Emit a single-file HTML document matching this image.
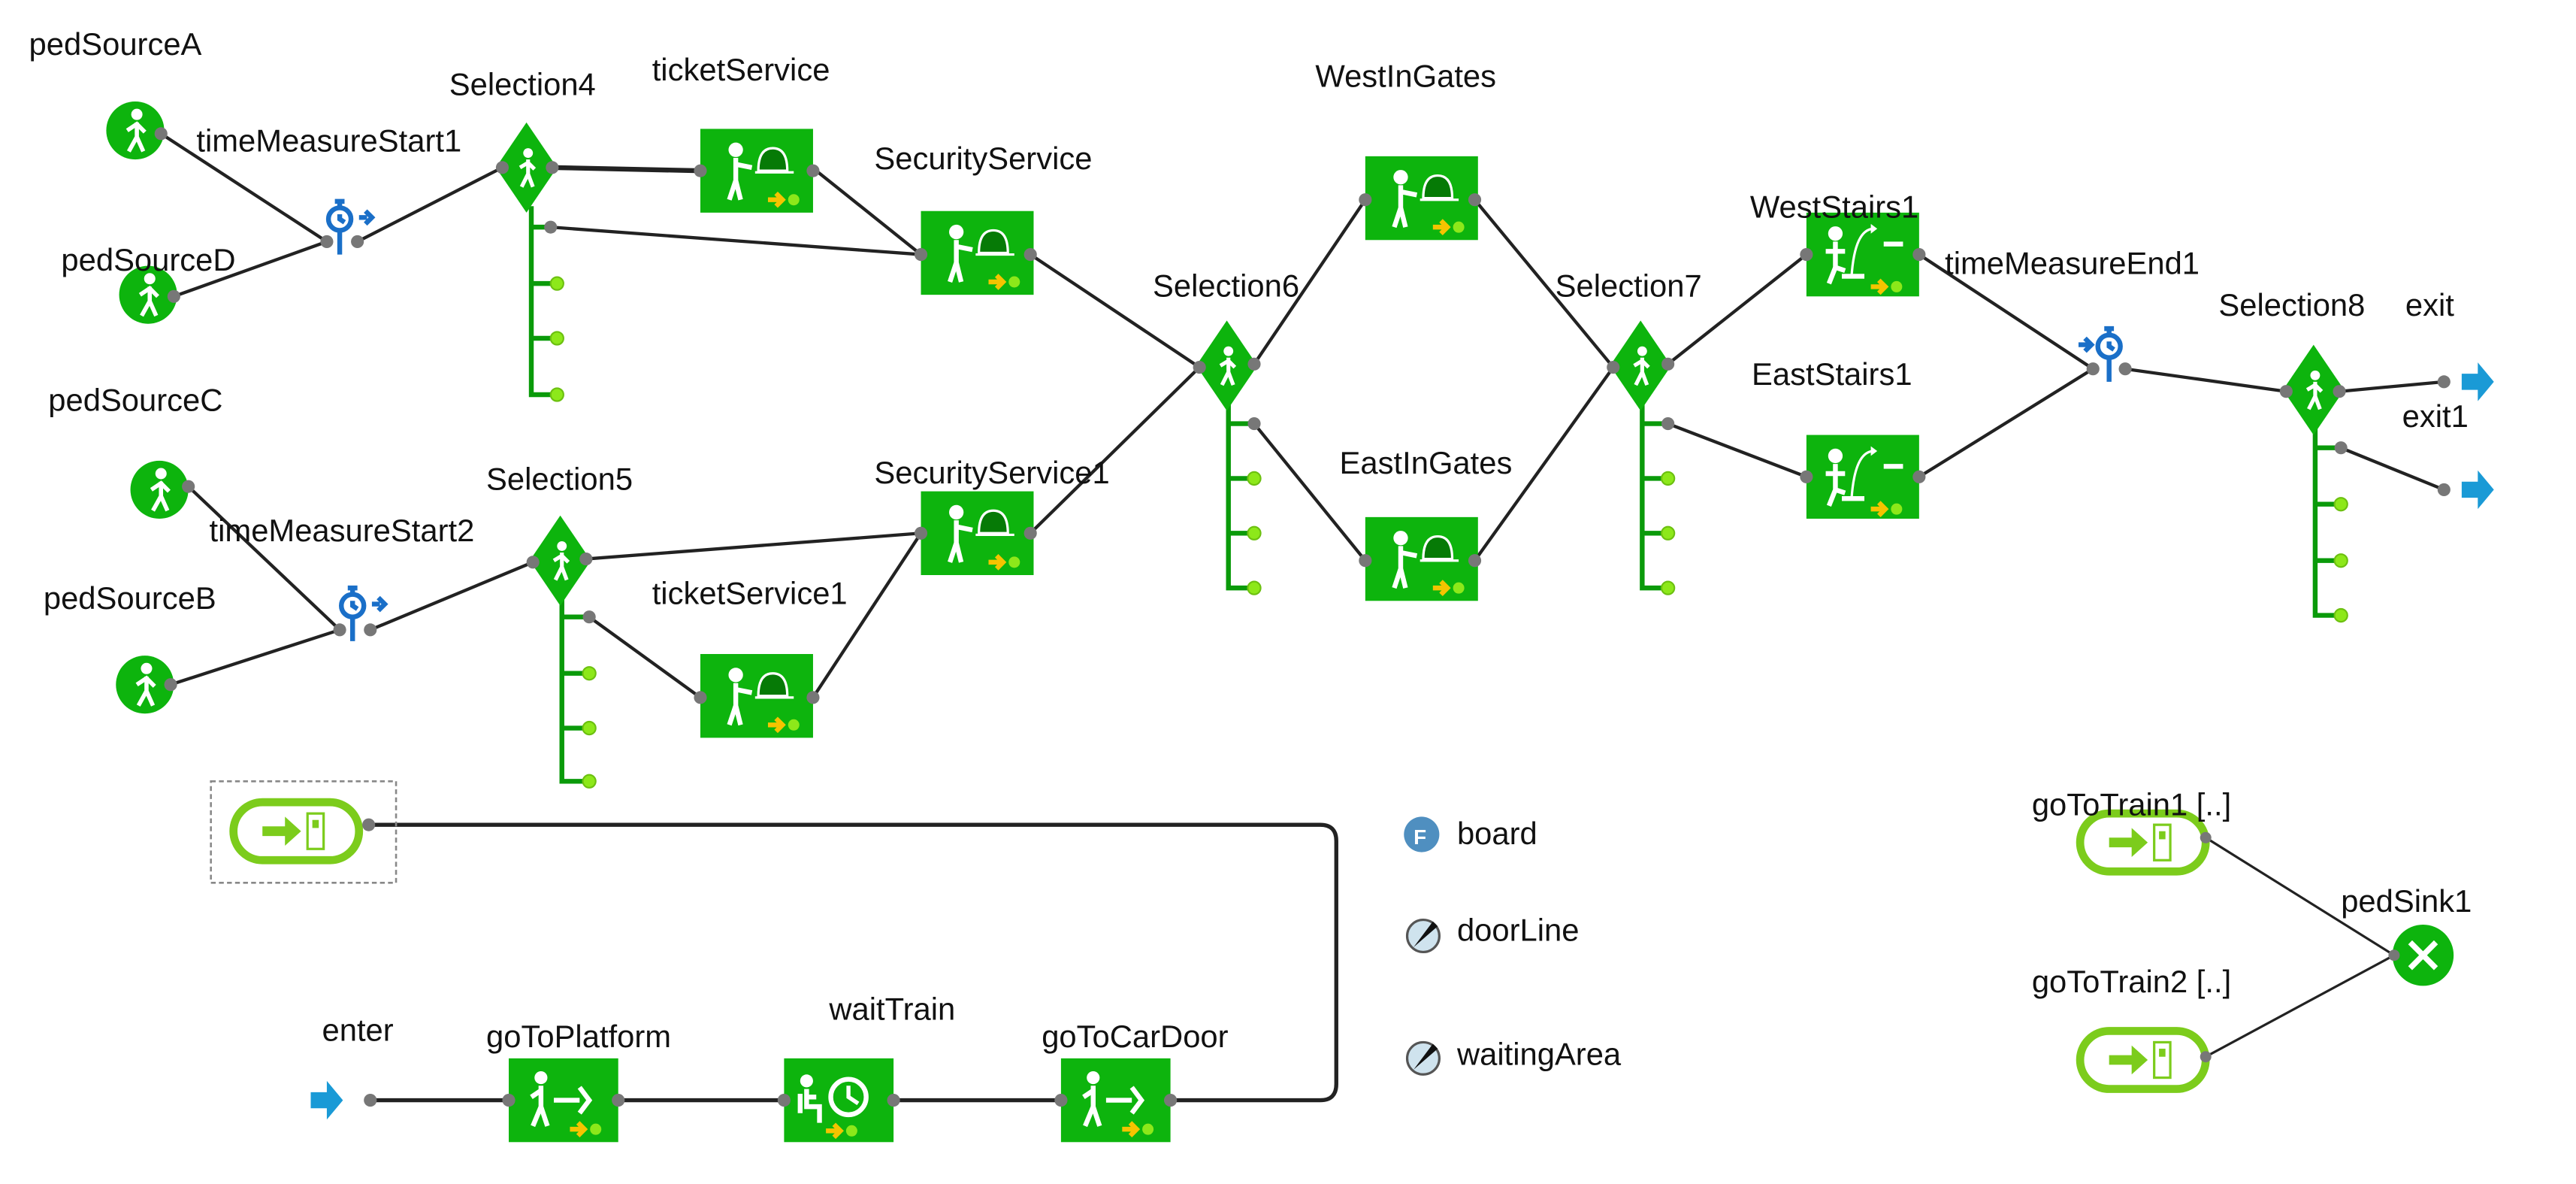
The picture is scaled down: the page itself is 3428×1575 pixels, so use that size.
<!DOCTYPE html>
<html><head><meta charset="utf-8"><style>
html,body{margin:0;padding:0;background:#fff;}
svg{display:block;}
text{font-family:"Liberation Sans",sans-serif;font-size:19.5px;fill:#111;}
</style></head><body>
<svg width="3428" height="1575" viewBox="0 0 1600 735" preserveAspectRatio="none" xmlns="http://www.w3.org/2000/svg">
<defs>
<g id="srv">
<rect x="0" y="0" width="70" height="52" fill="#0db40d"/>
<circle cx="22" cy="13" r="4.5" fill="#fff"/>
<path d="M22 18 L22 32 L18 44 M22 32 L25 44 M22 22 L32 24" stroke="#fff" stroke-width="3" fill="none"/>
<path d="M36 26 Q36 12 45 12 Q54 12 54 26 Z" fill="#067a06" stroke="#fff" stroke-width="1.5"/>
<line x1="34" y1="27" x2="58" y2="27" stroke="#fff" stroke-width="1.5"/>
<path d="M42 44 L50 44 M47 40 L51 44 L47 48" stroke="#f5c400" stroke-width="3" fill="none"/>
<circle cx="58" cy="44" r="3.5" fill="#8de81a"/>
</g>
<g id="stairs">
<rect x="0" y="0" width="70" height="52" fill="#0db40d"/>
<circle cx="18" cy="13" r="4.5" fill="#fff"/>
<path d="M18 18 L18 34 M12 24 L24 24 M18 34 L14 44 M18 34 L24 36" stroke="#fff" stroke-width="3" fill="none"/>
<path d="M28 40 Q30 10 42 10" stroke="#fff" stroke-width="1.5" fill="none"/>
<path d="M40 7 L44 10 L40 13" fill="#fff"/>
<rect x="48" y="18" width="12" height="3" fill="#fff"/>
<rect x="22" y="38" width="14" height="3" fill="#fff"/>
<path d="M40 46 L48 46 M45 42 L49 46 L45 50" stroke="#f5c400" stroke-width="3" fill="none"/>
<circle cx="56" cy="46" r="3.5" fill="#8de81a"/>
</g>
<g id="walkbox">
<rect x="0" y="0" width="68" height="52" fill="#0db40d"/>
<circle cx="20" cy="12" r="4" fill="#fff"/>
<path d="M20 17 L20 30 L15 42 M20 30 L24 42 M14 24 L20 20" stroke="#fff" stroke-width="3" fill="none"/>
<path d="M28 26 L44 26 M44 18 L50 26 L44 34" stroke="#fff" stroke-width="3" fill="none"/>
<path d="M38 44 L46 44 M43 40 L47 44 L43 48" stroke="#f5c400" stroke-width="3" fill="none"/>
<circle cx="54" cy="44" r="3.5" fill="#8de81a"/>
</g>
<g id="ped">
<circle cx="0" cy="0" r="18" fill="#0db40d"/>
<circle cx="1" cy="-10" r="3.5" fill="#fff"/>
<path d="M1 -5 L1 4 L-4 13 M1 4 L5 13 M-5 0 L1 -4 L6 1" stroke="#fff" stroke-width="2.6" fill="none"/>
</g>
<g id="dia">
<path d="M0 -28 L19 0 L0 28 L-19 0 Z" fill="#0db40d"/>
<circle cx="1" cy="-9" r="3" fill="#fff"/>
<path d="M1 -5 L1 4 L-3 12 M1 4 L4 12 M-4 0 L1 -3 L5 1" stroke="#fff" stroke-width="2.4" fill="none"/>
</g>
<g id="pill">
<rect x="2" y="2" width="78" height="36" rx="18" fill="#fff" stroke="#7ccc1c" stroke-width="5"/>
<path d="M20 17 L34 17 L34 11 L44 20 L34 29 L34 23 L20 23 Z" fill="#7ccc1c"/>
<rect x="48" y="9" width="10" height="22" fill="#fff" stroke="#7ccc1c" stroke-width="1.5"/>
<rect x="51" y="13" width="4" height="5" fill="#7ccc1c"/>
</g>
<g id="exitarr"><path d="M0 -5 L10 -5 L10 -12 L20 0 L10 12 L10 5 L0 5 Z" fill="#1a9ad6"/></g>
</defs>

<g stroke="#222" stroke-width="2" fill="none">
<line x1="100" y1="83" x2="203" y2="150"/>
<line x1="108" y1="184" x2="203" y2="150"/>
<line x1="222" y1="150" x2="312" y2="104"/>
<line x1="343" y1="104" x2="435" y2="106" stroke-width="3"/>
<line x1="507" y1="106" x2="572" y2="158"/>
<line x1="342" y1="141" x2="572" y2="158"/>
<line x1="640" y1="158" x2="745" y2="228"/>
<line x1="640" y1="331" x2="745" y2="228"/>
<line x1="779" y1="226" x2="848" y2="124"/>
<line x1="779" y1="263" x2="848" y2="348"/>
<line x1="916" y1="124" x2="1002" y2="228"/>
<line x1="916" y1="348" x2="1002" y2="228"/>
<line x1="1036" y1="226" x2="1122" y2="158"/>
<line x1="1036" y1="263" x2="1122" y2="296"/>
<line x1="1192" y1="158" x2="1300" y2="229"/>
<line x1="1192" y1="296" x2="1300" y2="229"/>
<line x1="1320" y1="229" x2="1420" y2="243"/>
<line x1="1453" y1="243" x2="1518" y2="237"/>
<line x1="1454" y1="278" x2="1518" y2="304"/>
<line x1="117" y1="302" x2="211" y2="391"/>
<line x1="106" y1="425" x2="211" y2="391"/>
<line x1="230" y1="391" x2="331" y2="349"/>
<line x1="364" y1="347" x2="572" y2="331"/>
<line x1="366" y1="383" x2="435" y2="433"/>
<line x1="505" y1="433" x2="572" y2="331"/>
<path d="M229 512 L820 512 Q830 512 830 522 L830 673 Q830 683 820 683 L727 683" stroke-width="2.5"/>
<line x1="230" y1="683" x2="316" y2="683" stroke-width="2.5"/>
<line x1="384" y1="683" x2="487" y2="683" stroke-width="2.5"/>
<line x1="555" y1="683" x2="659" y2="683" stroke-width="2.5"/>
<line x1="1370" y1="520" x2="1487" y2="593" stroke-width="1.5"/>
<line x1="1370" y1="656" x2="1487" y2="593" stroke-width="1.5"/>
</g>

<g stroke="#0a9a0a" stroke-width="3" fill="none">
<path d="M330 128 L330 245 L346 245 M330 141 L342 141 M330 176 L346 176 M330 210 L346 210"/>
<path d="M349 370 L349 485 L366 485 M349 383 L366 383 M349 418 L366 418 M349 452 L366 452"/>
<path d="M763 250 L763 365 L779 365 M763 263 L779 263 M763 297 L779 297 M763 331 L779 331"/>
<path d="M1020 250 L1020 365 L1036 365 M1020 263 L1036 263 M1020 297 L1036 297 M1020 331 L1036 331"/>
<path d="M1438 264 L1438 382 L1454 382 M1438 278 L1454 278 M1438 313 L1454 313 M1438 348 L1454 348"/>
</g>
<g fill="#8de81a" stroke="#6cc010" stroke-width="1">
<circle cx="346" cy="176" r="4"/><circle cx="346" cy="210" r="4"/><circle cx="346" cy="245" r="4"/>
<circle cx="366" cy="418" r="4"/><circle cx="366" cy="452" r="4"/><circle cx="366" cy="485" r="4"/>
<circle cx="779" cy="297" r="4"/><circle cx="779" cy="331" r="4"/><circle cx="779" cy="365" r="4"/>
<circle cx="1036" cy="297" r="4"/><circle cx="1036" cy="331" r="4"/><circle cx="1036" cy="365" r="4"/>
<circle cx="1454" cy="313" r="4"/><circle cx="1454" cy="348" r="4"/><circle cx="1454" cy="382" r="4"/>
</g>

<use href="#ped" x="84" y="81"/>
<use href="#ped" x="92" y="183"/>
<use href="#ped" x="99" y="304"/>
<use href="#ped" x="90" y="425"/>
<use href="#dia" x="327" y="104"/>
<use href="#dia" x="348" y="348"/>
<use href="#dia" x="762" y="227"/>
<use href="#dia" x="1019" y="227"/>
<use href="#dia" x="1437" y="242"/>
<use href="#srv" x="435" y="80"/>
<use href="#srv" x="572" y="131"/>
<use href="#srv" x="572" y="305"/>
<use href="#srv" x="435" y="406"/>
<use href="#srv" x="848" y="97"/>
<use href="#srv" x="848" y="321"/>
<use href="#stairs" x="1122" y="132"/>
<use href="#stairs" x="1122" y="270"/>
<use href="#walkbox" x="316" y="657"/>
<use href="#walkbox" x="659" y="657"/>
<g transform="translate(487,657)">
<rect width="68" height="52" fill="#0db40d"/>
<circle cx="14" cy="14" r="4" fill="#fff"/>
<path d="M14 19 L14 30 L22 30 L22 40 M14 24 L20 24 M10 22 L10 34" stroke="#fff" stroke-width="3" fill="none"/>
<circle cx="40" cy="24" r="11" fill="none" stroke="#fff" stroke-width="3"/>
<path d="M40 17 L40 24 L46 28" stroke="#fff" stroke-width="2.5" fill="none"/>
<path d="M26 45 L34 45 M31 41 L35 45 L31 49" stroke="#f5c400" stroke-width="3" fill="none"/>
<circle cx="42" cy="45" r="3.5" fill="#8de81a"/>
</g>
<g stroke="#1a6fc8" stroke-width="3" fill="none">
<g transform="translate(211,136)"><circle r="7"/><path d="M0 -10 L0 -7 M-3 -11 L3 -11 M0 -3 L0 0 L3 2 M0 7 L0 22"/><path d="M12 -1 L17 -1 M16 -5 L20 -1 L16 3"/></g>
<g transform="translate(219,376)"><circle r="7"/><path d="M0 -10 L0 -7 M-3 -11 L3 -11 M0 -3 L0 0 L3 2 M0 7 L0 22"/><path d="M12 -1 L17 -1 M16 -5 L20 -1 L16 3"/></g>
<g transform="translate(1310,215)"><circle r="7"/><path d="M0 -10 L0 -7 M-3 -11 L3 -11 M0 -3 L0 0 L3 2 M0 7 L0 22"/><path d="M-19 -1 L-13 -1 M-15 -5 L-11 -1 L-15 3"/></g>
</g>
<rect x="131" y="485" width="115" height="63" fill="none" stroke="#888" stroke-width="1.2" stroke-dasharray="3,2"/>
<use href="#pill" x="143" y="496"/>
<use href="#pill" x="1290" y="503"/>
<use href="#pill" x="1290" y="638"/>
<circle cx="1505" cy="593" r="19" fill="#0db40d"/>
<path d="M1497 585 L1513 601 M1513 585 L1497 601" stroke="#fff" stroke-width="3.5"/>
<use href="#exitarr" x="1529" y="237"/>
<use href="#exitarr" x="1529" y="304"/>
<use href="#exitarr" x="193" y="683"/>
<circle cx="883" cy="518" r="11" fill="#4f8fc0"/>
<text x="878" y="524" style="font-size:13px;fill:#fff;font-weight:bold">F</text>
<circle cx="884" cy="581" r="10" fill="#cfe3ee" stroke="#555" stroke-width="1.5"/>
<path d="M878 588 L890 572 L893 575 Z" fill="#111"/>
<circle cx="884" cy="657" r="10" fill="#cfe3ee" stroke="#555" stroke-width="1.5"/>
<path d="M878 664 L890 648 L893 651 Z" fill="#111"/>

<g fill="#777">
<circle cx="100" cy="83" r="4"/><circle cx="108" cy="184" r="4"/><circle cx="117" cy="302" r="4"/><circle cx="106" cy="425" r="4"/>
<circle cx="203" cy="150" r="4"/><circle cx="222" cy="150" r="4"/><circle cx="211" cy="391" r="4"/><circle cx="230" cy="391" r="4"/>
<circle cx="1300" cy="229" r="4"/><circle cx="1320" cy="229" r="4"/>
<circle cx="312" cy="104" r="4"/><circle cx="343" cy="104" r="4"/><circle cx="342" cy="141" r="4"/>
<circle cx="331" cy="349" r="4"/><circle cx="364" cy="347" r="4"/><circle cx="366" cy="383" r="4"/>
<circle cx="745" cy="228" r="4"/><circle cx="779" cy="226" r="4"/><circle cx="779" cy="263" r="4"/>
<circle cx="1002" cy="228" r="4"/><circle cx="1036" cy="226" r="4"/><circle cx="1036" cy="263" r="4"/>
<circle cx="1420" cy="243" r="4"/><circle cx="1453" cy="243" r="4"/><circle cx="1454" cy="278" r="4"/>
<circle cx="435" cy="106" r="4"/><circle cx="505" cy="106" r="4"/>
<circle cx="572" cy="158" r="4"/><circle cx="640" cy="158" r="4"/>
<circle cx="572" cy="331" r="4"/><circle cx="640" cy="331" r="4"/>
<circle cx="435" cy="433" r="4"/><circle cx="505" cy="433" r="4"/>
<circle cx="848" cy="124" r="4"/><circle cx="916" cy="124" r="4"/>
<circle cx="848" cy="348" r="4"/><circle cx="916" cy="348" r="4"/>
<circle cx="1122" cy="158" r="4"/><circle cx="1192" cy="158" r="4"/>
<circle cx="1122" cy="296" r="4"/><circle cx="1192" cy="296" r="4"/>
<circle cx="1518" cy="237" r="4"/><circle cx="1518" cy="304" r="4"/>
<circle cx="229" cy="512" r="4"/><circle cx="230" cy="683" r="4"/>
<circle cx="316" cy="683" r="4"/><circle cx="384" cy="683" r="4"/>
<circle cx="487" cy="683" r="4"/><circle cx="555" cy="683" r="4"/>
<circle cx="659" cy="683" r="4"/><circle cx="727" cy="683" r="4"/>
<circle cx="1370" cy="520" r="3.5"/><circle cx="1370" cy="656" r="3.5"/><circle cx="1487" cy="593" r="3.5"/>
</g>

<text x="18" y="34">pedSourceA</text>
<text x="122" y="94">timeMeasureStart1</text>
<text x="38" y="168">pedSourceD</text>
<text x="279" y="59">Selection4</text>
<text x="405" y="50">ticketService</text>
<text x="543" y="105">SecurityService</text>
<text x="817" y="54">WestInGates</text>
<text x="716" y="184">Selection6</text>
<text x="966" y="184">Selection7</text>
<text x="1087" y="135">WestStairs1</text>
<text x="1208" y="170">timeMeasureEnd1</text>
<text x="1378" y="196">Selection8</text>
<text x="1494" y="196">exit</text>
<text x="1492" y="265">exit1</text>
<text x="1088" y="239">EastStairs1</text>
<text x="832" y="294">EastInGates</text>
<text x="543" y="300">SecurityService1</text>
<text x="30" y="255">pedSourceC</text>
<text x="130" y="336">timeMeasureStart2</text>
<text x="302" y="304">Selection5</text>
<text x="27" y="378">pedSourceB</text>
<text x="405" y="375">ticketService1</text>
<text x="905" y="524">board</text>
<text x="905" y="584">doorLine</text>
<text x="905" y="661">waitingArea</text>
<text x="1262" y="506">goToTrain1 [..]</text>
<text x="1262" y="616">goToTrain2 [..]</text>
<text x="1454" y="566">pedSink1</text>
<text x="200" y="646">enter</text>
<text x="302" y="650">goToPlatform</text>
<text x="515" y="633">waitTrain</text>
<text x="647" y="650">goToCarDoor</text>
</svg>
</body></html>
